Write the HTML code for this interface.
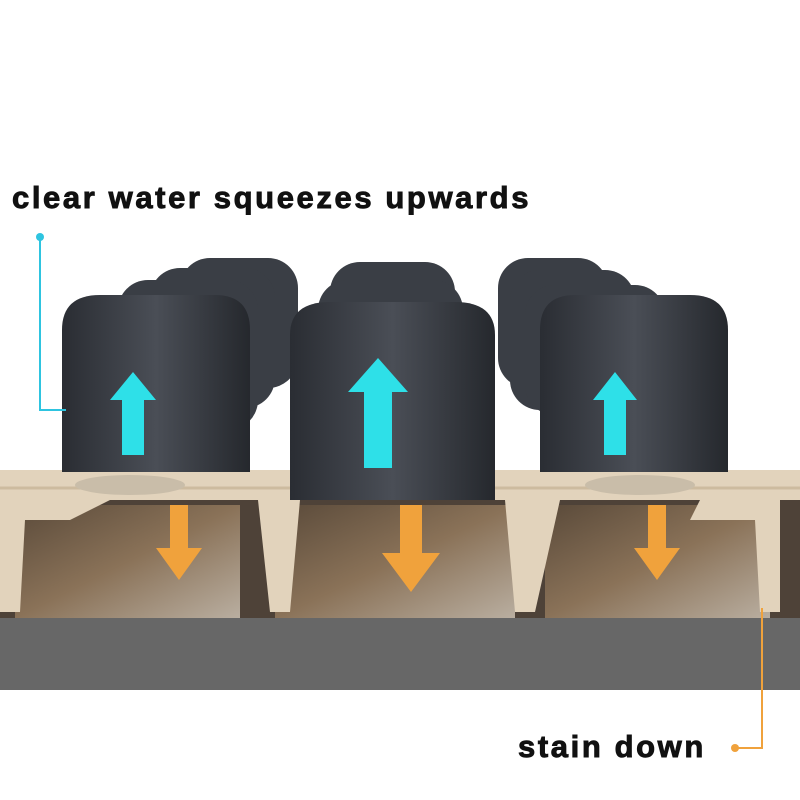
<!DOCTYPE html>
<html><head><meta charset="utf-8"><style>
html,body{margin:0;padding:0;background:#fff;}
body{width:800px;height:800px;position:relative;overflow:hidden;font-family:"Liberation Sans",sans-serif;}
.t{position:absolute;font-weight:bold;color:#111;letter-spacing:2.6px;white-space:nowrap;-webkit-text-stroke:0.9px #111;}
</style></head><body>
<svg width="800" height="800" style="position:absolute;left:0;top:0">
<defs>
<linearGradient id="blk" x1="0" y1="0" x2="1" y2="0">
<stop offset="0" stop-color="#2a2d33"/><stop offset="0.5" stop-color="#4a4e56"/><stop offset="1" stop-color="#25282d"/></linearGradient>
<linearGradient id="brn" x1="0" y1="0" x2="1" y2="1">
<stop offset="0" stop-color="#5a4a3a"/><stop offset="0.5" stop-color="#8a7258"/><stop offset="1" stop-color="#b9aea0"/></linearGradient>
</defs>
<rect x="0" y="495" width="800" height="125" fill="#4e4238"/>
<rect x="0" y="618" width="800" height="72" fill="#676767"/>
<rect x="15" y="505" width="225" height="113" fill="url(#brn)"/>
<rect x="275" y="505" width="240" height="113" fill="url(#brn)"/>
<rect x="545" y="505" width="225" height="113" fill="url(#brn)"/>
<g fill="#3a3e45">
<rect x="180" y="258" width="118" height="130" rx="30"/>
<rect x="150" y="268" width="125" height="140" rx="30"/>
<rect x="330" y="262" width="125" height="120" rx="30"/>
<rect x="318" y="280" width="145" height="120" rx="30"/>
<rect x="498" y="258" width="110" height="130" rx="30"/>
<rect x="510" y="270" width="125" height="140" rx="30"/>
<rect x="525" y="285" width="140" height="130" rx="30"/>
<rect x="118" y="280" width="140" height="150" rx="30"/>
</g>
<path d="M0 470 L800 470 L800 500 L780 500 L780 612 L760 612 L755 520 L690 520 L700 500 L560 500 L535 612 L515 612 L505 500 L300 500 L290 612 L270 612 L258 500 L110 500 L70 520 L25 520 L20 612 L0 612 Z" fill="#e2d3bc"/>
<path d="M0 488 L800 488" stroke="#cdbb9f" stroke-width="3"/>
<g fill="#c9bda9">
<ellipse cx="130" cy="485" rx="55" ry="10"/><ellipse cx="395" cy="485" rx="60" ry="10"/><ellipse cx="640" cy="485" rx="55" ry="10"/>
</g>
<path d="M62 472 L62 330 Q62 295 100 295 L215 295 Q250 295 250 330 L250 472 Z" fill="url(#blk)"/>
<path d="M290 500 L290 335 Q290 302 330 302 L455 302 Q495 302 495 335 L495 500 Z" fill="url(#blk)"/>
<path d="M540 472 L540 330 Q540 295 575 295 L690 295 Q728 295 728 330 L728 472 Z" fill="url(#blk)"/>
<g fill="#2ee0e8">
<path d="M110 400 L133 372 L156 400 L144 400 L144 455 L122 455 L122 400 Z"/>
<path d="M348 392 L378 358 L408 392 L392 392 L392 468 L364 468 L364 392 Z"/>
<path d="M593 400 L615 372 L637 400 L626 400 L626 455 L604 455 L604 400 Z"/>
</g>
<g fill="#f0a23c">
<path d="M170 505 L188 505 L188 548 L202 548 L179 580 L156 548 L170 548 Z"/>
<path d="M400 505 L422 505 L422 553 L440 553 L411 592 L382 553 L400 553 Z"/>
<path d="M648 505 L666 505 L666 548 L680 548 L657 580 L634 548 L648 548 Z"/>
</g>
<circle cx="40" cy="237" r="4" fill="#2ec4e0"/>
<polyline points="40,237 40,410 66,410" fill="none" stroke="#2ec4e0" stroke-width="2"/>
<circle cx="735" cy="748" r="4" fill="#f0a23c"/>
<polyline points="735,748 762,748 762,608" fill="none" stroke="#f0a23c" stroke-width="2"/>
</svg>
<div class="t" style="left:12px;top:180px;font-size:31px;">clear water squeezes upwards</div>
<div class="t" style="left:518px;top:729px;font-size:31px;">stain down</div>
</body></html>
